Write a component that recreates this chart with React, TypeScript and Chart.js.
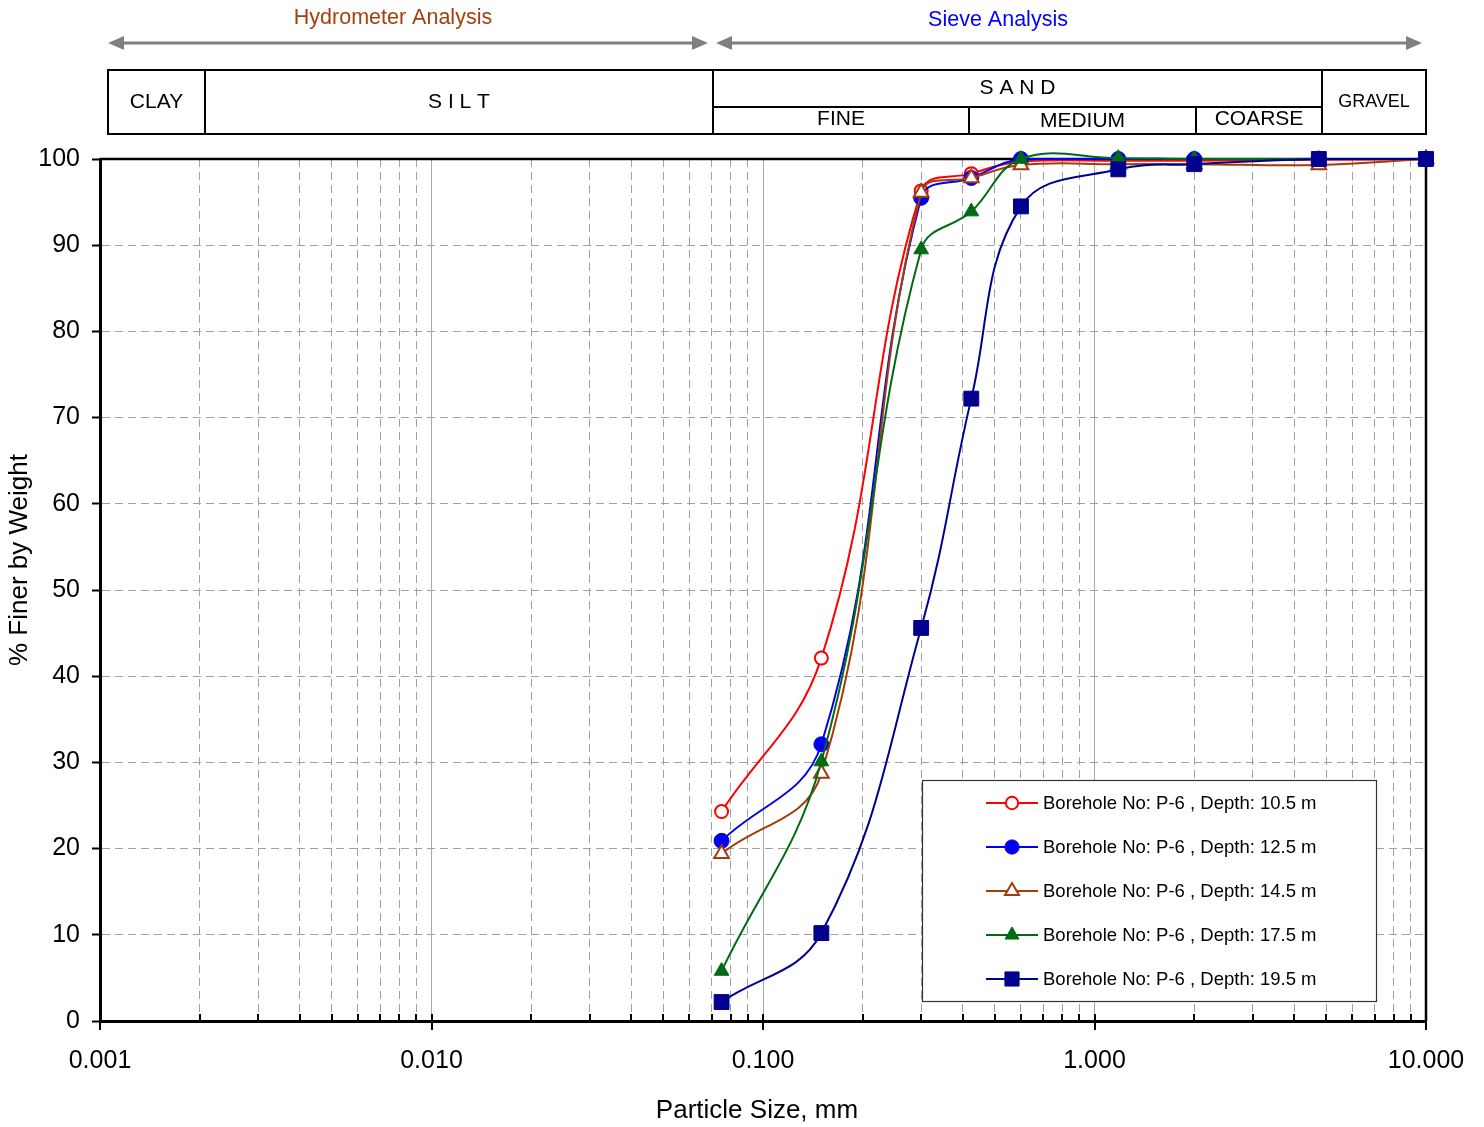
import { useEffect, useRef } from 'react';
import { Chart, registerables } from 'chart.js';
import { drawPoint } from 'chart.js/helpers';

Chart.register(...registerables);

// ---------- data ----------
const particleSizes = [0.075, 0.15, 0.3, 0.425, 0.6, 1.18, 2.0, 4.75, 10];
const depth10_5 = [24.3, 42.1, 96.3, 98.3, 99.7, 99.8, 99.8, 99.9, 100];
const depth12_5 = [20.9, 32.1, 95.5, 97.8, 100, 100, 100, 100, 100];
const depth14_5 = [19.4, 28.7, 96.1, 97.8, 99.3, 99.4, 99.4, 99.3, 100];
const depth17_5 = [5.8, 30.1, 89.5, 93.9, 100, 100.1, 100, 100, 100];
const depth19_5 = [2.2, 10.2, 45.6, 72.2, 94.5, 98.8, 99.4, 100, 100];

const seriesLabels = [
  'Borehole No: P-6 , Depth: 10.5 m',
  'Borehole No: P-6 , Depth: 12.5 m',
  'Borehole No: P-6 , Depth: 14.5 m',
  'Borehole No: P-6 , Depth: 17.5 m',
  'Borehole No: P-6 , Depth: 19.5 m',
];

const xDecades = [0.001, 0.01, 0.1, 1, 10];
const xDecadeLabels = ['0.001', '0.010', '0.100', '1.000', '10.000'];
const minorMultipliers = [2, 3, 4, 5, 6, 7, 8, 9];

const FONT = '"Liberation Sans", Arial, Helvetica, sans-serif';

function isDecade(v: number) {
  const l = Math.log10(v);
  return Math.abs(l - Math.round(l)) < 1e-9;
}

function buildXTicks() {
  const out: { value: number; major: boolean }[] = [];
  xDecades.forEach((d, i) => {
    out.push({ value: d, major: true });
    if (i < xDecades.length - 1) {
      minorMultipliers.forEach((m) => out.push({ value: +(d * m).toPrecision(6), major: false }));
    }
  });
  return out;
}

// ---------- plugins ----------
const framePlugin = {
  id: 'frame',
  beforeDatasetsDraw(chart: any) {
    const { ctx, chartArea } = chart;
    const { left, right, top, bottom } = chartArea;
    ctx.save();
    ctx.strokeStyle = '#000';
    ctx.lineWidth = 2.5;
    ctx.beginPath();
    ctx.moveTo(left, top);
    ctx.lineTo(right, top);
    ctx.lineTo(right, bottom);
    ctx.stroke();
    // x tick marks
    const xs = chart.scales.x;
    ctx.lineWidth = 2;
    xs.ticks.forEach((t: any) => {
      const px = Math.round(xs.getPixelForValue(t.value));
      ctx.beginPath();
      ctx.moveTo(px, bottom - 7);
      ctx.lineTo(px, t.major ? bottom + 9 : bottom);
      ctx.stroke();
    });
    ctx.restore();
  },
};

const legendPlugin = {
  id: 'customLegend',
  afterDatasetsDraw(chart: any) {
    const { ctx } = chart;
    const bx = 922, by = 780, bw = 454, bh = 221;
    ctx.save();
    ctx.fillStyle = '#fff';
    ctx.fillRect(bx, by, bw, bh);
    ctx.strokeStyle = '#333';
    ctx.lineWidth = 1.2;
    ctx.strokeRect(bx + 0.5, by + 0.5, bw, bh);
    chart.data.datasets.forEach((ds: any, i: number) => {
      const y = 803 + i * 44;
      ctx.strokeStyle = ds.borderColor;
      ctx.lineWidth = 2;
      ctx.beginPath();
      ctx.moveTo(986, y);
      ctx.lineTo(1038, y);
      ctx.stroke();
      ctx.fillStyle = ds.pointBackgroundColor;
      ctx.strokeStyle = ds.pointBorderColor;
      ctx.lineWidth = ds.pointBorderWidth;
      drawPoint(ctx, { pointStyle: ds.pointStyle, rotation: 0, radius: ds.pointRadius * 0.95, borderWidth: ds.pointBorderWidth } as any, 1012, y);
      ctx.fillStyle = '#000';
      ctx.font = `18.5px ${FONT}`;
      ctx.textAlign = 'left';
      ctx.textBaseline = 'middle';
      ctx.fillText(ds.label, 1043, y + 1);
    });
    ctx.restore();
  },
};

function drawArrow(ctx: CanvasRenderingContext2D, x1: number, x2: number, y: number) {
  const hl = 16, hw = 7;
  ctx.beginPath();
  ctx.moveTo(x1 + hl - 2, y);
  ctx.lineTo(x2 - hl + 2, y);
  ctx.stroke();
  ctx.beginPath();
  ctx.moveTo(x1, y);
  ctx.lineTo(x1 + hl, y - hw);
  ctx.lineTo(x1 + hl, y + hw);
  ctx.closePath();
  ctx.fill();
  ctx.beginPath();
  ctx.moveTo(x2, y);
  ctx.lineTo(x2 - hl, y - hw);
  ctx.lineTo(x2 - hl, y + hw);
  ctx.closePath();
  ctx.fill();
}

const headerPlugin = {
  id: 'header',
  afterDraw(chart: any) {
    const { ctx, chartArea } = chart;
    const L = chartArea.left;
    const W = chartArea.right - chartArea.left;
    const fx = (f: number) => Math.round(L + f * W);
    ctx.save();
    // titles
    ctx.font = `21.5px ${FONT}`;
    ctx.textAlign = 'center';
    ctx.textBaseline = 'middle';
    ctx.fillStyle = '#A3400C';
    ctx.fillText('Hydrometer Analysis', fx(0.221), 18);
    ctx.fillStyle = '#0000FF';
    ctx.fillText('Sieve Analysis', fx(0.677), 20);
    // arrows
    ctx.strokeStyle = '#808080';
    ctx.fillStyle = '#808080';
    ctx.lineWidth = 3;
    drawArrow(ctx, fx(0.006), fx(0.4585), 43);
    drawArrow(ctx, fx(0.4646), fx(0.997), 43);
    // table
    const t = 70, b = 134, mid = 107;
    const x0 = fx(0.006), xClay = fx(0.0792), xSand = fx(0.4623), xMed = fx(0.6554), xCoarse = fx(0.8265), xGravel = fx(0.9216), x1 = fx(1);
    ctx.strokeStyle = '#000';
    ctx.lineWidth = 2;
    ctx.strokeRect(x0, t, x1 - x0, b - t);
    ctx.beginPath();
    ctx.moveTo(xClay, t); ctx.lineTo(xClay, b);
    ctx.moveTo(xSand, t); ctx.lineTo(xSand, b);
    ctx.moveTo(xGravel, t); ctx.lineTo(xGravel, b);
    ctx.moveTo(xSand, mid); ctx.lineTo(xGravel, mid);
    ctx.moveTo(xMed, mid); ctx.lineTo(xMed, b);
    ctx.moveTo(xCoarse, mid); ctx.lineTo(xCoarse, b);
    ctx.stroke();
    ctx.fillStyle = '#000';
    ctx.font = `21px ${FONT}`;
    ctx.fillText('CLAY', (x0 + xClay) / 2, 102);
    ctx.fillText('S I L T', (xClay + xSand) / 2, 102);
    ctx.fillText('S A N D', (xSand + xGravel) / 2, 88);
    ctx.fillText('FINE', (xSand + xMed) / 2, 119);
    ctx.fillText('MEDIUM', (xMed + xCoarse) / 2, 121);
    ctx.fillText('COARSE', (xCoarse + xGravel) / 2, 119);
    ctx.font = `18px ${FONT}`;
    ctx.fillText('GRAVEL', (xGravel + x1) / 2, 102);
    // x title
    ctx.font = `26px ${FONT}`;
    ctx.fillText('Particle Size, mm', fx(0.4955), 1111);
    // y title
    ctx.translate(20, 560);
    ctx.rotate(-Math.PI / 2);
    ctx.fillText('% Finer by Weight', 0, 0);
    ctx.restore();
  },
};

// ---------- component ----------
export default function App() {
  const ref = useRef<HTMLCanvasElement | null>(null);

  useEffect(() => {
    document.body.style.margin = '0';
    document.body.style.overflow = 'hidden';
    const canvas = ref.current;
    if (!canvas) return;

    const mk = (i: number, values: number[], color: string, style: string, radius: number, filled: boolean, order: number) => ({
      label: seriesLabels[i],
      data: particleSizes.map((x, k) => ({ x, y: values[k] })),
      borderColor: color,
      backgroundColor: color,
      borderWidth: 2,
      pointStyle: style,
      pointRadius: radius,
      pointBorderWidth: filled ? 1 : 2,
      pointBackgroundColor: filled ? color : '#ffffff',
      pointBorderColor: color,
      tension: 0.4,
      order,
      clip: false,
    });

    const chart = new Chart(canvas, {
      type: 'line',
      data: {
        datasets: [
          mk(0, depth10_5, '#FF0000', 'circle', 6.5, false, 5),
          mk(1, depth12_5, '#0000EE', 'circle', 7.5, true, 4),
          mk(2, depth14_5, '#A33C0C', 'triangle', 8.5, false, 3),
          mk(3, depth17_5, '#006A14', 'triangle', 8.5, true, 2),
          mk(4, depth19_5, '#00008F', 'rect', 10.5, true, 1),
        ] as any,
      },
      options: {
        responsive: false,
        animation: false,
        events: [],
        layout: { padding: { top: 159, right: 58, left: 0, bottom: 0 } },
        plugins: { legend: { display: false }, tooltip: { enabled: false } },
        scales: {
          x: {
            type: 'logarithmic',
            min: 0.001,
            max: 10,
            afterBuildTicks: (s: any) => {
              s.ticks = buildXTicks();
            },
            afterFit: (s: any) => {
              s.height = 106;
            },
            ticks: {
              autoSkip: false,
              maxRotation: 0,
              minRotation: 0,
              padding: 0,
              color: '#000',
              font: { family: FONT, size: 25 },
              callback: (v: any) => {
                const idx = xDecades.findIndex((d) => Math.abs(d - Number(v)) < d * 1e-6);
                return idx >= 0 ? xDecadeLabels[idx] : '';
              },
            },
            grid: {
              color: (c: any) => (c.tick && isDecade(c.tick.value) ? '#a8a8a8' : '#a0a0a0'),
              lineWidth: 1,
              drawTicks: true,
              tickLength: 25,
              tickColor: 'rgba(0,0,0,0)',
            },
            border: {
              display: true,
              color: '#000',
              width: 3,
              dash: (c: any) => (c.tick && isDecade(c.tick.value) ? [] : [8, 5]),
            },
            title: { display: false },
          } as any,
          y: {
            min: 0,
            max: 100,
            afterFit: (s: any) => {
              s.width = 100;
            },
            ticks: {
              stepSize: 10,
              padding: 12,
              color: '#000',
              font: { family: FONT, size: 25 },
            },
            grid: {
              color: '#a0a0a0',
              lineWidth: 1,
              tickColor: '#000',
              tickLength: 8,
              tickWidth: 2,
              tickBorderDash: [],
            },
            border: { display: true, color: '#000', width: 3, dash: [8, 5] },
          } as any,
        },
      },
      plugins: [framePlugin, legendPlugin, headerPlugin],
    });

    return () => chart.destroy();
  }, []);

  return (
    <div style={{ width: 1484, height: 1127, background: '#fff' }}>
      <canvas ref={ref} width={1484} height={1127} style={{ display: 'block' }} />
    </div>
  );
}
